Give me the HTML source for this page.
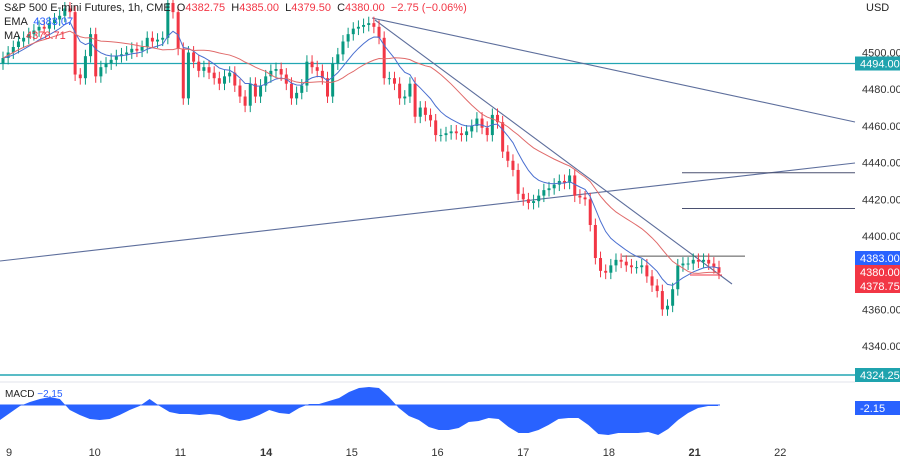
<!DOCTYPE html>
<html><head><meta charset="utf-8"><style>
body{margin:0;background:#fff;width:900px;height:462px;overflow:hidden;font-family:"Liberation Sans",sans-serif}
svg{display:block}
</style></head><body>
<svg id="c" width="900" height="462" xmlns="http://www.w3.org/2000/svg"></svg>
<script>
const closes=[4497,4500,4503,4506,4508,4510,4512,4514,4513,4516,4518,4520,4524,4522,
4488,4486,4498,4510,4487,4492,4494,4496,4498,4499,
4500,4502,4501,4503,4508,4506,4507,4508,4527,4522,
4502,4475,4500,4495,4490,4492,4489,4486,4483,4487,
4489,4482,4476,4471,4483,4476,4482,4487,4490,4491,
4488,4483,4475,4478,4482,4495,4492,4490,4486,4476,
4494,4499,4506,4510,4513,4514,4515,4516,4514,4508,
4486,4486,4483,4475,4476,4483,4465,4470,4466,4463,
4455,4455,4456,4457,4456,4455,4457,4460,4464,4459,
4455,4466,4462,4446,4441,4436,4423,4420,4418,4419,
4422,4425,4426,4428,4430,4429,4433,4422,4421,4420,
4406,4388,4381,4380,4384,4387,4386,4384,4383,4383,
4384,4378,4373,4370,4360,4362,4371,4384,4385,4385,
4387,4386,4387,4385,4383,4380];
const macdVals=[-7.5,-4,-0.5,1.5,3,4,3,-2.5,-5,-7,-7.5,-7,-5,-2.5,-0.5,3,-0.5,-3.5,-4.5,-4.5,-5,-4.5,-5,-7,-8,-7,-5,-2.5,-4,-4.5,-1.5,0.5,0.5,2,3.5,6.5,8.5,9,8.5,4,-1.5,-5.5,-7.5,-11,-12.5,-12.5,-11.5,-8.5,-8,-6.5,-7,-11,-14,-14,-12.5,-10,-7,-6.5,-6.5,-10,-14.5,-15,-14,-14,-14,-13.5,-15,-12,-7.5,-4,-1.5,-0.5,-0.5];
const priceTicks=[4500,4480,4460,4440,4420,4400,4360,4340];
const dayLabels=["9","10","11","14","15","16","17","18","21","22"];
const dayBold=[false,false,false,true,false,false,false,false,true,false];

const svg=document.getElementById('c');const NS='http://www.w3.org/2000/svg';
function el(t,a,p){const e=document.createElementNS(NS,t);for(const k in a)e.setAttribute(k,a[k]);(p||svg).appendChild(e);return e;}
const py=p=>236-(p-4400)*1.835;
const cx=i=>3+i*716/(closes.length-1);
const dx=i=>9+i*85.7;
const my=v=>405-v*2;
const mx=i=>i*718/(macdVals.length-1);

priceTicks.forEach(p=>{const t=el('text',{x:862,y:py(p)+4,'font-size':11,fill:'#333'});t.textContent=p.toFixed(2);
});
dayLabels.forEach((d,i)=>{const t=el('text',{x:dx(i),y:456,'font-size':11,fill:'#333','text-anchor':'middle','font-weight':dayBold[i]?'bold':'normal'});t.textContent=d;
});

let l=el('line',{x1:0,x2:855,y1:py(4494),y2:py(4494),stroke:'#22a6b3','stroke-width':1.2});
l=el('line',{x1:0,x2:855,y1:py(4324.25),y2:py(4324.25),stroke:'#22a6b3','stroke-width':1.5});
el('line',{x1:0,x2:855,y1:382,y2:382,stroke:'#e0e3eb','stroke-width':1});
[[372,18,855,122],[375,20,732,284],[0,261,855,163]].forEach(a=>{const t=el('line',{x1:a[0],y1:a[1],x2:a[2],y2:a[3],stroke:'#5d6e9c','stroke-width':1.1});});
[[682,855,4434.5],[682,855,4415]].forEach(a=>{const t=el('line',{x1:a[0],x2:a[1],y1:py(a[2]),y2:py(a[2]),stroke:'#4a5070','stroke-width':1});});
l=el('line',{x1:622,x2:745,y1:py(4389),y2:py(4389),stroke:'#555','stroke-width':1});
l=el('line',{x1:690,x2:722,y1:py(4378.75),y2:py(4378.75),stroke:'#f23645','stroke-width':1});

closes.forEach((c,i)=>{const o=i?closes[i-1]:c-3;const up=c>=o;const col=up?'#089981':'#f23645';
const hi=Math.max(o,c)+3.5,lo=Math.min(o,c)-3.5;const x=cx(i);
const g=el('g',{});
el('line',{x1:x,x2:x,y1:py(hi),y2:py(lo),stroke:col,'stroke-width':1},g);
const y1=py(Math.max(o,c)),y2=py(Math.min(o,c));
el('rect',{x:x-1.5,y:y1,width:3,height:Math.max(1,y2-y1),fill:col},g);});

function ema(n){let k=2/(n+1),e=closes[0],r=[];closes.forEach(c=>{e=c*k+e*(1-k);r.push(e);});return r;}
function sma(n){return closes.map((c,i)=>{const s=closes.slice(Math.max(0,i-n+1),i+1);return s.reduce((a,b)=>a+b,0)/s.length;});}
const e9=ema(9),s20=sma(20);
l=el('path',{d:e9.map((v,i)=>(i?'L':'M')+cx(i)+','+py(v)).join(''),fill:'none',stroke:'#4a6fd0','stroke-width':1});
l=el('path',{d:s20.map((v,i)=>(i?'L':'M')+cx(i)+','+py(v)).join(''),fill:'none',stroke:'#e06a6a','stroke-width':1});

let d='M0,'+my(0);macdVals.forEach((v,i)=>d+='L'+mx(i)+','+my(v));d+='L'+mx(macdVals.length-1)+','+my(0)+'Z';
l=el('path',{d:d,fill:'#2962ff'});
el('line',{x1:0,x2:720,y1:my(0),y2:my(0),stroke:'#2962ff','stroke-width':1});

function badge(y,txt,bg,name){const g=el('g',{});
el('rect',{x:855,y:y-7,width:45,height:14,fill:bg},g);const t=el('text',{x:860,y:y+4,'font-size':11,fill:'#fff'},g);t.textContent=txt;}
badge(py(4494),'4494.00','#1fa3ae','price-badge-4494');
badge(258,'4383.00','#2962ff','ema-badge');
badge(272,'4380.00','#f23645','last-price-badge');
badge(286,'4378.75','#f23645','ma-badge');
badge(py(4324.25),'4324.25','#1fa3ae','price-badge-4324');
badge(408,'-2.15','#2962ff','macd-badge');
</script>
<div style="position:absolute;left:4px;top:1px;font-size:11px;color:#222;line-height:14px">
<div>S&amp;P 500 E-mini Futures, 1h, CME &nbsp;O<span style="color:#f23645">4382.75</span> &nbsp;H<span style="color:#f23645">4385.00</span> &nbsp;L<span style="color:#f23645">4379.50</span> &nbsp;C<span style="color:#f23645">4380.00 &nbsp;−2.75 (−0.06%)</span></div>
<div>EMA &nbsp;<span style="color:#2962ff">4383.07</span></div>
<div>MA &nbsp;<span style="color:#f23645">4378.71</span></div>
</div>
<div style="position:absolute;left:5px;top:389px;font-size:10px;color:#222">MACD <span style="color:#2962ff">−2.15</span></div>
<div style="position:absolute;left:866px;top:2px;font-size:11px;color:#222">USD</div>
</body></html>
